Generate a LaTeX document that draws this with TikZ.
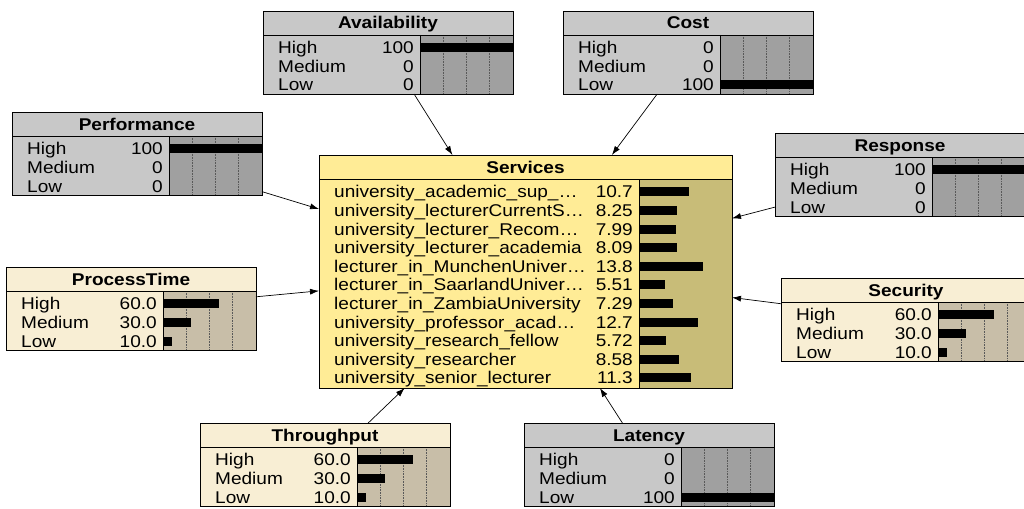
\documentclass[tikz,border=0pt]{standalone}
\usepackage{fontspec}
\setmainfont{Liberation Sans}[FakeStretch=1.12]
\usetikzlibrary{arrows.meta}

\definecolor{grayBody}{RGB}{200,200,200}
\definecolor{grayBar}{RGB}{160,160,160}
\definecolor{creamBody}{RGB}{248,238,212}
\definecolor{creamBar}{RGB}{200,190,168}
\definecolor{servBody}{RGB}{255,236,150}
\definecolor{servBar}{RGB}{200,188,120}

\begin{document}
\begin{tikzpicture}[x=1pt, y=-1pt,
    every node/.style={font=\fontsize{17}{18}\selectfont},
    box/.style={draw=black, line width=0.8pt, anchor=north west, inner sep=0pt, outer sep=0pt,
      minimum width=250, minimum height=83},
    title/.style={anchor=base, inner sep=0pt, font=\fontsize{17}{18}\selectfont\bfseries},
    state/.style={anchor=base west, inner sep=0pt},
    value/.style={anchor=base east, inner sep=0pt},
    grid/.style={densely dotted, line width=0.6pt, draw=black!65},
    link/.style={-{Latex[length=9pt,width=6pt]}, line width=0.7pt}]

  \useasboundingbox[fill=white] (0, 0) rectangle (1024, 508);

  % Availability
  \node[box, fill=grayBody] (avail) at (263, 11) {};
  \fill[grayBar] (263 + 157, 11 + 24) rectangle (263 + 250, 11 + 83);
  \foreach \k in {1, 2, 3} \draw[grid] (263 + 157 + \k * 23.25, 11 + 24) -- (263 + 157 + \k * 23.25, 11 + 83);
  \draw[line width=0.8pt] (263, 11 + 24) -- (263 + 250, 11 + 24) (263 + 157, 11 + 24) -- (263 + 157, 11 + 83);
  \node[title] (avail_t) at (263 + 125, 11 + 18) {Availability};
  \foreach \s/\v/\p [count=\i] in {High/100/100, Medium/0/0, Low/0/0} {
    \node[state] (avail_s\i) at (263 + 15, 11 + 24.2 + \i * 18.6) {\s};
    \node[value] (avail_v\i) at (263 + 151, 11 + 24.2 + \i * 18.6) {\v};
    \fill (263 + 157, 11 + 13.7 + \i * 18.6) rectangle ++(\p * 0.93, 9);
  }
  \draw[line width=0.8pt] (avail.north west) rectangle (avail.south east);

  % Cost
  \node[box, fill=grayBody] (cost) at (563, 11) {};
  \fill[grayBar] (563 + 157, 11 + 24) rectangle (563 + 250, 11 + 83);
  \foreach \k in {1, 2, 3} \draw[grid] (563 + 157 + \k * 23.25, 11 + 24) -- (563 + 157 + \k * 23.25, 11 + 83);
  \draw[line width=0.8pt] (563, 11 + 24) -- (563 + 250, 11 + 24) (563 + 157, 11 + 24) -- (563 + 157, 11 + 83);
  \node[title] (cost_t) at (563 + 125, 11 + 18) {Cost};
  \foreach \s/\v/\p [count=\i] in {High/0/0, Medium/0/0, Low/100/100} {
    \node[state] (cost_s\i) at (563 + 15, 11 + 24.2 + \i * 18.6) {\s};
    \node[value] (cost_v\i) at (563 + 151, 11 + 24.2 + \i * 18.6) {\v};
    \fill (563 + 157, 11 + 13.7 + \i * 18.6) rectangle ++(\p * 0.93, 9);
  }
  \draw[line width=0.8pt] (cost.north west) rectangle (cost.south east);

  % Performance
  \node[box, fill=grayBody] (perf) at (12, 112) {};
  \fill[grayBar] (12 + 157, 112 + 24) rectangle (12 + 250, 112 + 83);
  \foreach \k in {1, 2, 3} \draw[grid] (12 + 157 + \k * 23.25, 112 + 24) -- (12 + 157 + \k * 23.25, 112 + 83);
  \draw[line width=0.8pt] (12, 112 + 24) -- (12 + 250, 112 + 24) (12 + 157, 112 + 24) -- (12 + 157, 112 + 83);
  \node[title] (perf_t) at (12 + 125, 112 + 18) {Performance};
  \foreach \s/\v/\p [count=\i] in {High/100/100, Medium/0/0, Low/0/0} {
    \node[state] (perf_s\i) at (12 + 15, 112 + 24.2 + \i * 18.6) {\s};
    \node[value] (perf_v\i) at (12 + 151, 112 + 24.2 + \i * 18.6) {\v};
    \fill (12 + 157, 112 + 13.7 + \i * 18.6) rectangle ++(\p * 0.93, 9);
  }
  \draw[line width=0.8pt] (perf.north west) rectangle (perf.south east);

  % Response
  \node[box, fill=grayBody] (resp) at (775, 133) {};
  \fill[grayBar] (775 + 157, 133 + 24) rectangle (775 + 250, 133 + 83);
  \foreach \k in {1, 2, 3} \draw[grid] (775 + 157 + \k * 23.25, 133 + 24) -- (775 + 157 + \k * 23.25, 133 + 83);
  \draw[line width=0.8pt] (775, 133 + 24) -- (775 + 250, 133 + 24) (775 + 157, 133 + 24) -- (775 + 157, 133 + 83);
  \node[title] (resp_t) at (775 + 125, 133 + 18) {Response};
  \foreach \s/\v/\p [count=\i] in {High/100/100, Medium/0/0, Low/0/0} {
    \node[state] (resp_s\i) at (775 + 15, 133 + 24.2 + \i * 18.6) {\s};
    \node[value] (resp_v\i) at (775 + 151, 133 + 24.2 + \i * 18.6) {\v};
    \fill (775 + 157, 133 + 13.7 + \i * 18.6) rectangle ++(\p * 0.93, 9);
  }
  \draw[line width=0.8pt] (resp.north west) rectangle (resp.south east);

  % ProcessTime
  \node[box, fill=creamBody] (ptime) at (6, 267) {};
  \fill[creamBar] (6 + 157, 267 + 24) rectangle (6 + 250, 267 + 83);
  \foreach \k in {1, 2, 3} \draw[grid] (6 + 157 + \k * 23.25, 267 + 24) -- (6 + 157 + \k * 23.25, 267 + 83);
  \draw[line width=0.8pt] (6, 267 + 24) -- (6 + 250, 267 + 24) (6 + 157, 267 + 24) -- (6 + 157, 267 + 83);
  \node[title] (ptime_t) at (6 + 125, 267 + 18) {ProcessTime};
  \foreach \s/\v/\p [count=\i] in {High/60.0/60, Medium/30.0/30, Low/10.0/10} {
    \node[state] (ptime_s\i) at (6 + 15, 267 + 24.2 + \i * 18.6) {\s};
    \node[value] (ptime_v\i) at (6 + 151, 267 + 24.2 + \i * 18.6) {\v};
    \fill (6 + 157, 267 + 13.7 + \i * 18.6) rectangle ++(\p * 0.93, 9);
  }
  \draw[line width=0.8pt] (ptime.north west) rectangle (ptime.south east);

  % Security
  \node[box, fill=creamBody] (secu) at (781, 278) {};
  \fill[creamBar] (781 + 157, 278 + 24) rectangle (781 + 250, 278 + 83);
  \foreach \k in {1, 2, 3} \draw[grid] (781 + 157 + \k * 23.25, 278 + 24) -- (781 + 157 + \k * 23.25, 278 + 83);
  \draw[line width=0.8pt] (781, 278 + 24) -- (781 + 250, 278 + 24) (781 + 157, 278 + 24) -- (781 + 157, 278 + 83);
  \node[title] (secu_t) at (781 + 125, 278 + 18) {Security};
  \foreach \s/\v/\p [count=\i] in {High/60.0/60, Medium/30.0/30, Low/10.0/10} {
    \node[state] (secu_s\i) at (781 + 15, 278 + 24.2 + \i * 18.6) {\s};
    \node[value] (secu_v\i) at (781 + 151, 278 + 24.2 + \i * 18.6) {\v};
    \fill (781 + 157, 278 + 13.7 + \i * 18.6) rectangle ++(\p * 0.93, 9);
  }
  \draw[line width=0.8pt] (secu.north west) rectangle (secu.south east);

  % Throughput
  \node[box, fill=creamBody] (thru) at (200, 423) {};
  \fill[creamBar] (200 + 157, 423 + 24) rectangle (200 + 250, 423 + 83);
  \foreach \k in {1, 2, 3} \draw[grid] (200 + 157 + \k * 23.25, 423 + 24) -- (200 + 157 + \k * 23.25, 423 + 83);
  \draw[line width=0.8pt] (200, 423 + 24) -- (200 + 250, 423 + 24) (200 + 157, 423 + 24) -- (200 + 157, 423 + 83);
  \node[title] (thru_t) at (200 + 125, 423 + 18) {Throughput};
  \foreach \s/\v/\p [count=\i] in {High/60.0/60, Medium/30.0/30, Low/10.0/10} {
    \node[state] (thru_s\i) at (200 + 15, 423 + 24.2 + \i * 18.6) {\s};
    \node[value] (thru_v\i) at (200 + 151, 423 + 24.2 + \i * 18.6) {\v};
    \fill (200 + 157, 423 + 13.7 + \i * 18.6) rectangle ++(\p * 0.93, 9);
  }
  \draw[line width=0.8pt] (thru.north west) rectangle (thru.south east);

  % Latency
  \node[box, fill=grayBody] (lat) at (524, 423) {};
  \fill[grayBar] (524 + 157, 423 + 24) rectangle (524 + 250, 423 + 83);
  \foreach \k in {1, 2, 3} \draw[grid] (524 + 157 + \k * 23.25, 423 + 24) -- (524 + 157 + \k * 23.25, 423 + 83);
  \draw[line width=0.8pt] (524, 423 + 24) -- (524 + 250, 423 + 24) (524 + 157, 423 + 24) -- (524 + 157, 423 + 83);
  \node[title] (lat_t) at (524 + 125, 423 + 18) {Latency};
  \foreach \s/\v/\p [count=\i] in {High/0/0, Medium/0/0, Low/100/100} {
    \node[state] (lat_s\i) at (524 + 15, 423 + 24.2 + \i * 18.6) {\s};
    \node[value] (lat_v\i) at (524 + 151, 423 + 24.2 + \i * 18.6) {\v};
    \fill (524 + 157, 423 + 13.7 + \i * 18.6) rectangle ++(\p * 0.93, 9);
  }
  \draw[line width=0.8pt] (lat.north west) rectangle (lat.south east);

  % Services
  \node[box, fill=servBody, minimum width=413, minimum height=233] (serv) at (319, 155) {};
  \fill[servBar] (319 + 320, 155 + 24) rectangle (319 + 413, 155 + 233);
  \draw[line width=0.8pt] (319, 155 + 24) -- (319 + 413, 155 + 24) (319 + 320, 155 + 24) -- (319 + 320, 155 + 233);
  \node[title] (serv_t) at (319 + 206.5, 155 + 18) {Services};
  \foreach \s/\v [count=\i] in {university\_academic\_sup\_\ldots/10.7,
      university\_lecturerCurrentS\ldots/8.25, university\_lecturer\_Recom\ldots/7.99,
      university\_lecturer\_academia/8.09, lecturer\_in\_MunchenUniver\ldots/13.8,
      lecturer\_in\_SaarlandUniver\ldots/5.51, lecturer\_in\_ZambiaUniversity/7.29,
      university\_professor\_acad\ldots/12.7, university\_research\_fellow/5.72,
      university\_researcher/8.58, university\_senior\_lecturer/11.3} {
    \node[state] (serv_s\i) at (319 + 15, 155 + 24.2 + \i * 18.6) {\s};
    \node[value] (serv_v\i) at (319 + 314, 155 + 24.2 + \i * 18.6) {\v};
    \fill (319 + 320, 155 + 13.7 + \i * 18.6) rectangle ++(\v * 4.64, 9);
  }
  \draw[line width=0.8pt] (serv.north west) rectangle (serv.south east);

  % Links into Services
  \draw[link] (avail) -- (serv);
  \draw[link] (cost) -- (serv);
  \draw[link] (perf) -- (serv);
  \draw[link] (resp) -- (serv);
  \draw[link] (ptime) -- (serv);
  \draw[link] (secu) -- (serv);
  \draw[link] (thru) -- (serv);
  \draw[link] (lat) -- (serv);
\end{tikzpicture}
\end{document}
